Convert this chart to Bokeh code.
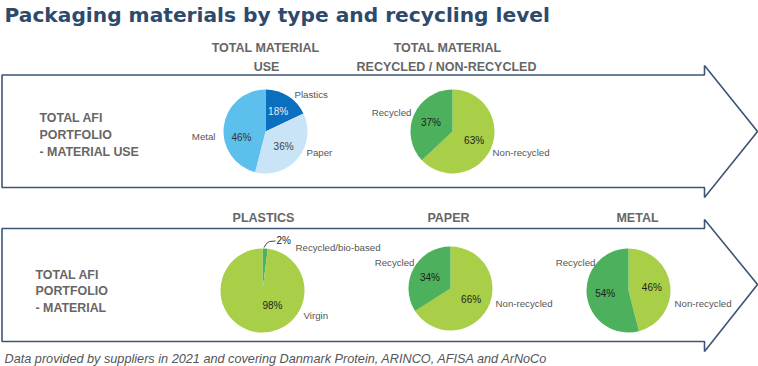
import numpy as np
from bokeh.plotting import figure
from bokeh.models import ColumnDataSource, Range1d
from bokeh.core.properties import value
from bokeh.embed import file_html
from bokeh.resources import INLINE

# ---------------- data ----------------
title = "Packaging materials by type and recycling level"
footnote = "Data provided by suppliers in 2021 and covering Danmark Protein, ARINCO, AFISA and ArNoCo"

use_labels = ["Plastics", "Paper", "Metal"]
use_values = [18, 36, 46]

rec_labels = ["Non-recycled", "Recycled"]
rec_values = [63, 37]

plastics_labels = ["Recycled/bio-based", "Virgin"]
plastics_values = [2, 98]

paper_labels = ["Non-recycled", "Recycled"]
paper_values = [66, 34]

metal_labels = ["Non-recycled", "Recycled"]
metal_values = [46, 54]

# ---------------- style ----------------
NAVY = "#2d4a6c"
BORDER = "#3e5676"
GRAY = "#666666"
LBL = "#555555"
DBLUE, LBLUE, MBLUE = "#0b6fbf", "#c8e4f6", "#5dc0ec"
LGREEN, DGREEN = "#a8cf47", "#4cb05c"
FONT = "Liberation Sans"

p = figure(width=758, height=366, x_range=Range1d(0, 758), y_range=Range1d(-366, 0),
           x_axis_type=None, y_axis_type=None, toolbar_location=None,
           output_backend="svg", min_border=0)
p.grid.visible = False
p.outline_line_color = None
p.background_fill_color = "white"
p.border_fill_color = "white"


def Y(v):
    return -v


def txt(x, y, s, size, color=LBL, align="left", style="normal", font=FONT, baseline="middle"):
    p.text(x=[x], y=[Y(y)], text=[s], text_font=value(font), text_font_size=size,
           text_color=color, text_align=align, text_baseline=baseline, text_font_style=style)


# ---------------- arrows ----------------
def arrow(top, bottom, head_top, head_bottom, tip_y, x0=1.5, hx=704, tip_x=757):
    xs = [x0, hx, hx, tip_x, hx, hx, x0]
    ys = [top, top, head_top, tip_y, head_bottom, bottom, bottom]
    p.patch(xs, [Y(v) for v in ys], fill_color="white", line_color=BORDER, line_width=1.6)


arrow(74.5, 187, 65, 197, 131)
arrow(228, 341, 219, 351, 284)

# ---------------- pies ----------------
R = 42


def pie(cx, cy, values, colors, pct_colors, pct_pos=None, pct_r=0.56, skip=()):
    v = np.array(values, dtype=float)
    frac = v / v.sum()
    cum = np.concatenate([[0], np.cumsum(frac)])
    start = np.pi / 2 - 2 * np.pi * cum[1:]
    end = np.pi / 2 - 2 * np.pi * cum[:-1]
    src = ColumnDataSource(dict(x=[cx] * len(v), y=[Y(cy)] * len(v), start=start, end=end, color=colors))
    p.wedge(x="x", y="y", radius=R, start_angle="start", end_angle="end",
            fill_color="color", line_color=None, source=src)
    mid = 2 * np.pi * (cum[:-1] + cum[1:]) / 2
    for i, val in enumerate(values):
        if i in skip:
            continue
        if pct_pos and i in pct_pos:
            lx, ly = pct_pos[i]
        else:
            lx = cx + pct_r * R * np.sin(mid[i])
            ly = cy - pct_r * R * np.cos(mid[i])
        txt(lx, ly, f"{val}%", "10px", color=pct_colors[i], align="center")


LS = "9.7px"
# Row 1
pie(265, 131, use_values, [DBLUE, LBLUE, MBLUE], ["#e6eef8", "#444444", "#333333"],
    pct_pos={2: (241, 137)})
txt(294, 94, use_labels[0], LS)
txt(306, 152, use_labels[1], LS)
txt(215, 136, use_labels[2], LS, align="right")

pie(452, 131, rec_values, [LGREEN, DGREEN], ["#1e1e1e", "#1e1e1e"])
txt(492, 152, rec_labels[0], LS)
txt(411, 112, rec_labels[1], LS, align="right")

# Row 2
pie(262, 290, plastics_values, [DGREEN, LGREEN], ["#1e1e1e", "#1e1e1e"],
    pct_pos={1: (272, 305)}, skip=(0,))
p.line([263.5, 266, 269, 275], [Y(247), Y(243), Y(241), Y(240.5)], line_color="#444444", line_width=1)
txt(276, 240, f"{plastics_values[0]}%", "10px", color="#1e1e1e")
txt(295, 247, plastics_labels[0], LS)
txt(303, 315, plastics_labels[1], LS)

pie(450, 288, paper_values, [LGREEN, DGREEN], ["#1e1e1e", "#1e1e1e"])
txt(495, 303, paper_labels[0], LS)
txt(414, 262, paper_labels[1], LS, align="right")

pie(628, 290, metal_values, [LGREEN, DGREEN], ["#1e1e1e", "#1e1e1e"])
txt(674, 303, metal_labels[0], LS)
txt(595, 262, metal_labels[1], LS, align="right")

# ---------------- headings ----------------
txt(4, 14, title, "20.2px", color=NAVY, style="bold", font="DejaVu Sans")

HS = "12.5px"
txt(265, 47.5, "TOTAL MATERIAL", HS, color=GRAY, style="bold", align="center")
txt(266, 66.5, "USE", HS, color=GRAY, style="bold", align="center")
txt(447, 47.5, "TOTAL MATERIAL", HS, color=GRAY, style="bold", align="center")
txt(446, 66.5, "RECYCLED / NON-RECYCLED", HS, color=GRAY, style="bold", align="center")

txt(263, 217, "PLASTICS", HS, color=GRAY, style="bold", align="center")
txt(448, 217, "PAPER", HS, color=GRAY, style="bold", align="center")
txt(637, 217, "METAL", HS, color=GRAY, style="bold", align="center")

for i, s in enumerate(["TOTAL AFI", "PORTFOLIO", "- MATERIAL USE"]):
    txt(39, 117 + 17 * i, s, "12.4px", color=GRAY, style="bold")
for i, s in enumerate(["TOTAL AFI", "PORTFOLIO", "- MATERIAL"]):
    txt(35, 274 + 16.5 * i, s, "12.4px", color=GRAY, style="bold")

txt(4, 358, footnote, "12.7px", color="#555555", style="italic")

open("out.html", "w").write(file_html(p, INLINE))
